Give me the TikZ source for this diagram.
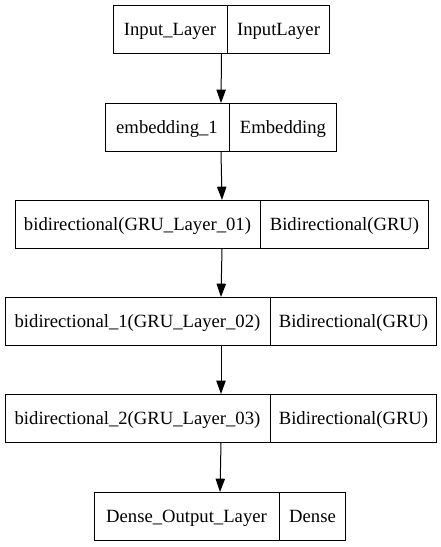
\documentclass[tikz,border=0pt]{standalone}
\usepackage{fontspec}
\setmainfont{Liberation Serif}
\usepackage{tikz}
\usetikzlibrary{shapes.multipart,arrows.meta,positioning}
\newdimen\pxu
\pxu=0.75pt
\tikzstyle{layer} = [draw, line width=0.75pt, rectangle split, rectangle split horizontal,
  rectangle split parts=2, inner xsep=0pt, inner ysep=0pt, minimum height=36pt,
  anchor=north west, font=\fontsize{14}{16}\selectfont]
\tikzstyle{arrow} = [draw, line width=0.75pt, -{Triangle[length=10pt,width=7pt]}]
\newcommand{\cell}[2]{\makebox[#1\pxu]{\vphantom{I}\smash{#2}}}

\begin{document}
\begin{tikzpicture}[x=0.75pt,y=-0.75pt]
    \useasboundingbox (0,0) rectangle (441,547);
    % layers of the model, top to bottom
    \node[layer] (inputlayer) at (113,5) {\cell{113}{Input\_Layer}\nodepart{two}\cell{102}{InputLayer}};
    \node[layer] (embedding) at (105,103) {\cell{123}{embedding\_1}\nodepart{two}\cell{107}{Embedding}};
    \node[layer] (gruone) at (15,200) {\cell{244}{bidirectional(GRU\_Layer\_01)}\nodepart{two}\cell{168}{Bidirectional(GRU)}};
    \node[layer] (grutwo) at (5,297) {\cell{264}{bidirectional\_1(GRU\_Layer\_02)}\nodepart{two}\cell{166}{Bidirectional(GRU)}};
    \node[layer] (grothree) at (5,394) {\cell{264}{bidirectional\_2(GRU\_Layer\_03)}\nodepart{two}\cell{166}{Bidirectional(GRU)}};
    \node[layer] (denseout) at (94,492) {\cell{184}{Dense\_Output\_Layer}\nodepart{two}\cell{66}{Dense}};
    % edges
    \draw[arrow] (inputlayer.south) -- (embedding.north);
    \draw[arrow] (embedding.south) -- (gruone.north);
    \draw[arrow] (gruone.south) -- (grutwo.north);
    \draw[arrow] (grutwo.south) -- (grothree.north);
    \draw[arrow] (grothree.south) -- (denseout.north);
  \end{tikzpicture}
\end{document}
